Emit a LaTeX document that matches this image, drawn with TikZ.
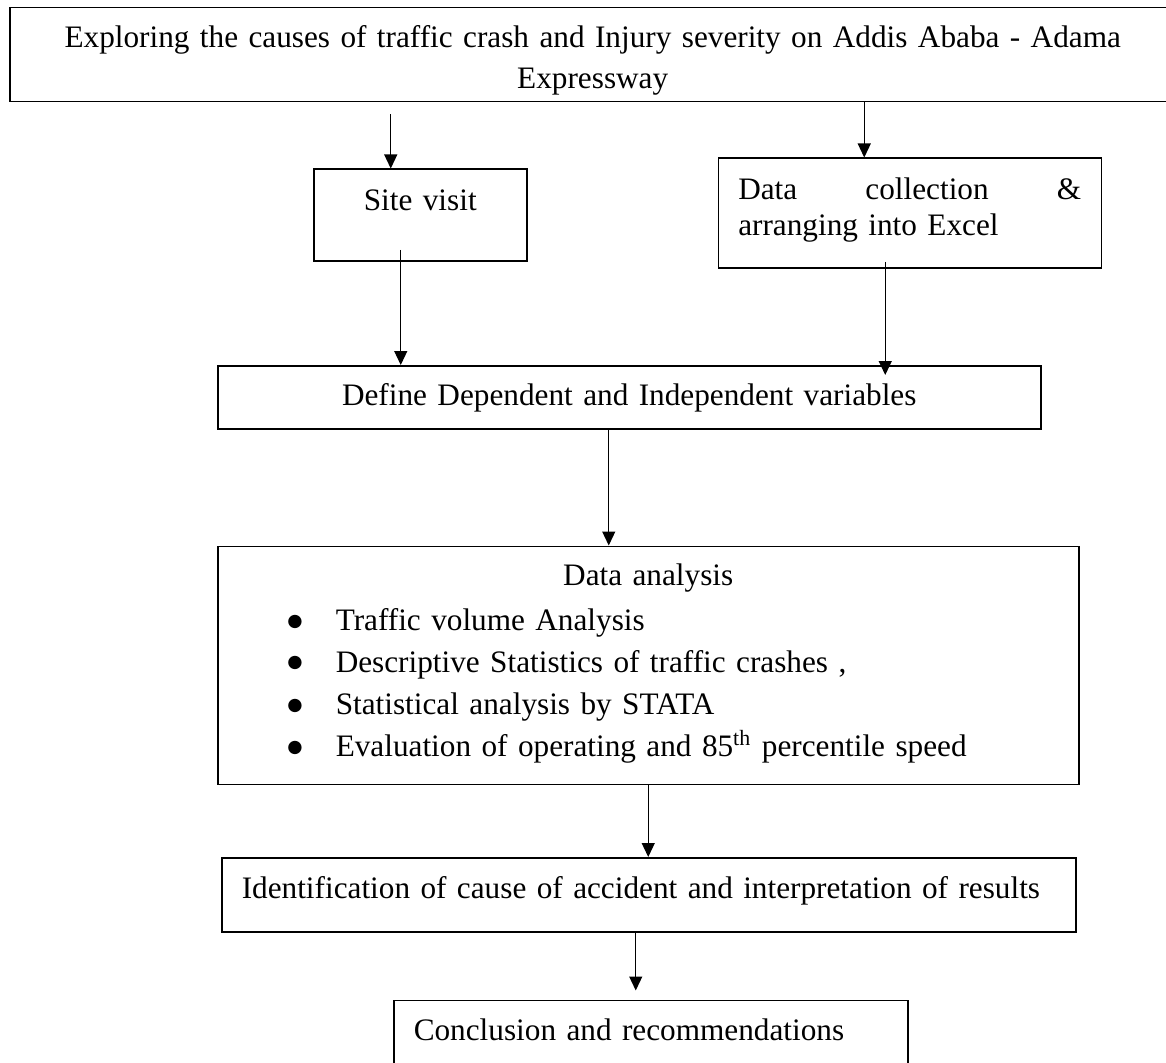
\documentclass[tikz,border=0pt]{standalone}
\usepackage{fontspec}
\setmainfont{Liberation Serif}
\newfontfamily\bulletfont{DejaVu Sans}
\usetikzlibrary{arrows.meta, positioning}
\newcommand{\figfont}{\fontsize{12.5pt}{16.8pt}\selectfont}
\newcommand{\baitem}[1]{\hspace*{19.8pt}\makebox[19.4pt][l]{\raisebox{1.7pt}{\bulletfont\fontsize{7pt}{7pt}\selectfont ●}}#1}
\tikzset{
  flowbox/.style={draw=black, line width=0.6pt, fill=white, inner xsep=8pt, inner ysep=0pt,
    font=\figfont, align=left},
  flowarrow/.style={-{Triangle[length=5.6pt, width=5.2pt]}, line width=0.5pt, black},
}

\begin{document}
\begin{tikzpicture}
  \useasboundingbox (0,0) rectangle (466.4pt,-425.2pt);
  \node[flowbox, anchor=north west, align=center, text width=450.4pt, text height=16pt, text depth=21.6pt] (aim) at (3.6pt,-2.8pt) {Exploring the causes of traffic crash and Injury severity on Addis Ababa - Adama\\[-0.4pt]Expressway};
  \node[flowbox, align=center, text width=69.2pt, text height=16.4pt, text depth=20.4pt, below right=26.4pt and 121.6pt of aim.south west] (site) {Site visit};
  \node[flowbox, text width=137.2pt, text height=16.4pt, text depth=27.6pt, font=\fontsize{12.5pt}{14.4pt}\selectfont,
    right=76pt of site.north east, anchor=north west, yshift=4.4pt] (collect) {Data\hfill collection\hfill\&\\arranging into Excel};
  \node[flowbox, align=center, text width=313.2pt, text height=16pt, text depth=9.2pt,
    below=41.2pt of site.south west, anchor=north west, xshift=-38.4pt] (vars) {Define Dependent and Independent variables};
  \node[flowbox, text width=328.4pt, text height=15.6pt, text depth=79.6pt,
    below=46.4pt of vars.south west, anchor=north west] (analysis) {\makebox[\linewidth]{Data analysis}\\[1.2pt]
    \baitem{Traffic volume Analysis}\\
    \baitem{Descriptive Statistics of traffic crashes ,}\\
    \baitem{Statistical analysis by STATA}\\
    \baitem{Evaluation of operating and 85\textsuperscript{th} percentile speed}};
  \node[flowbox, text width=325.6pt, text height=16.4pt, text depth=13.2pt,
    below=28.8pt of analysis.south west, anchor=north west, xshift=1.6pt] (cause) {Identification of cause of accident and interpretation of results};
  \node[flowbox, text width=189.6pt, text height=16pt, text depth=17.2pt,
    below=26.8pt of cause.south west, anchor=north west, xshift=68.8pt] (concl) {Conclusion and recommendations};
  % connectors
  \draw[flowarrow, shorten <=4.8pt] ([xshift=-11.8pt]site.north |- aim.south) -- ([xshift=-11.8pt]site.north);
  \draw[flowarrow] ([xshift=-18.2pt]collect.north |- aim.south) -- ([xshift=-18.2pt]collect.north);
  \draw[flowarrow] ([xshift=-7.8pt, yshift=4.8pt]site.south) -- ([xshift=-7.8pt]site.south |- vars.north);
  \draw[flowarrow, shorten >=-4pt] ([xshift=-9.8pt, yshift=2.8pt]collect.south) -- ([xshift=-9.8pt]collect.south |- vars.north);
  \draw[flowarrow] ([xshift=-8.2pt]vars.south) -- ([xshift=-8.2pt]vars.south |- analysis.north);
  \draw[flowarrow] (analysis.south) -- (analysis.south |- cause.north);
  \draw[flowarrow, shorten >=3.6pt] ([xshift=-5.2pt]cause.south) -- ([xshift=-5.2pt]cause.south |- concl.north);
\end{tikzpicture}
\end{document}
